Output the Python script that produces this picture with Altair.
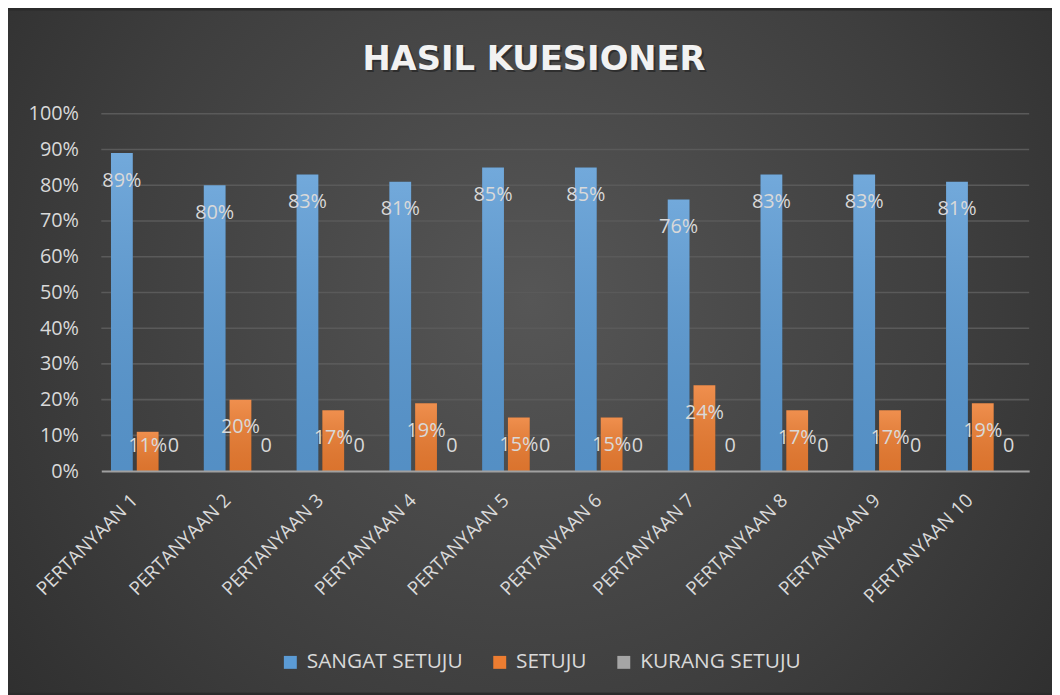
import altair as alt
import pandas as pd

categories = ["PERTANYAAN 1", "PERTANYAAN 2", "PERTANYAAN 3", "PERTANYAAN 4", "PERTANYAAN 5",
              "PERTANYAAN 6", "PERTANYAAN 7", "PERTANYAAN 8", "PERTANYAAN 9", "PERTANYAAN 10"]
series = ["SANGAT SETUJU", "SETUJU", "KURANG SETUJU"]
sangat_setuju = [0.89, 0.80, 0.83, 0.81, 0.85, 0.85, 0.76, 0.83, 0.83, 0.81]
setuju = [0.11, 0.20, 0.17, 0.19, 0.15, 0.15, 0.24, 0.17, 0.17, 0.19]
kurang_setuju = [0, 0, 0, 0, 0, 0, 0, 0, 0, 0]
y_ticks = [0.0, 0.1, 0.2, 0.3, 0.4, 0.5, 0.6, 0.7, 0.8, 0.9, 1.0]
colors = ["#5b9bd5", "#ed7d31", "#a5a5a5"]
title_text = "HASIL KUESIONER"

rows = []
for name, vals in zip(series, [sangat_setuju, setuju, kurang_setuju]):
    for c, v in zip(categories, vals):
        rows.append({"category": c, "series": name, "value": v,
                     "label": f"{round(v * 100)}%" if v > 0 else "0"})
df = pd.DataFrame(rows)

TXT = "#d9d9d9"
FONT = "Open Sans"

x_enc = alt.X("category:N", sort=categories,
              scale=alt.Scale(paddingInner=0.166, paddingOuter=0.083),
              axis=alt.Axis(title=None, labelAngle=-45, labelAlign="right", labelBaseline="middle",
                            labelFontSize=19, labelColor=TXT, labelPadding=26, labelOffset=-13,
                            ticks=False, domainColor="#a0a0a0", domainWidth=2, grid=False,
                            zindex=1))
xo_enc = alt.XOffset("series:N", sort=series,
                     scale=alt.Scale(domain=series, paddingInner=0.154, paddingOuter=0.077))
y_scale = alt.Scale(domain=[0, 1], nice=False)
y_axis = alt.Axis(title=None, format=".0%", values=y_ticks,
                  labelFontSize=20, labelColor=TXT, labelPadding=23, ticks=False,
                  domain=False, grid=False, zindex=1)
y_enc = alt.Y("value:Q", scale=y_scale, axis=y_axis)

bg = alt.Chart(pd.DataFrame({"a": [0]})).mark_rect(
    fill=alt.RadialGradient(gradient="radial",
                            stops=[alt.GradientStop(color="#565656", offset=0),
                                   alt.GradientStop(color="#3e3e3e", offset=0.55),
                                   alt.GradientStop(color="#272727", offset=1)],
                            x1=0.5, y1=0.45, r1=0, x2=0.5, y2=0.45, r2=0.75)
).encode(x=alt.value(-94), x2=alt.value(958), y=alt.value(-104), y2=alt.value(583))

grid = alt.Chart(pd.DataFrame({"value": y_ticks[1:]})).mark_rule(
    color="#5a5a5a", strokeWidth=1.6
).encode(y=y_enc, x=alt.value(0), x2=alt.value(935))

title_shadow = alt.Chart(pd.DataFrame({"t": [title_text]})).mark_text(
    x=438, y=-42, fontSize=34, fontWeight="bold", font="DejaVu Sans", color="black",
    opacity=0.35, align="center", baseline="alphabetic"
).encode(text="t:N")

title = alt.Chart(pd.DataFrame({"t": [title_text]})).mark_text(
    x=436, y=-44, fontSize=34, fontWeight="bold", font="DejaVu Sans", color="#f2f2f2",
    align="center", baseline="alphabetic"
).encode(text="t:N")

base = alt.Chart(df)

shadow = base.mark_bar(color="black", opacity=0.28, xOffset=3).encode(
    x=x_enc, xOffset=xo_enc, y=y_enc)

bars = base.mark_bar().encode(
    x=x_enc, xOffset=xo_enc, y=y_enc,
    color=alt.Color("series:N", sort=series,
                    scale=alt.Scale(domain=series, range=colors),
                    legend=alt.Legend(title=None, orient="none", direction="horizontal",
                                      legendX=180, legendY=542, symbolType="square",
                                      symbolSize=170, symbolStrokeWidth=0, labelFontSize=21,
                                      labelColor=TXT, labelFont=FONT, columnPadding=26,
                                      labelOffset=6, labelLimit=400)))

gloss = base.mark_bar(
    fill=alt.LinearGradient(gradient="linear",
                            stops=[alt.GradientStop(color="rgba(255,255,255,0.14)", offset=0),
                                   alt.GradientStop(color="rgba(0,0,0,0.08)", offset=1)],
                            x1=0, y1=0, x2=0, y2=1)
).encode(x=x_enc, xOffset=xo_enc, y=y_enc)

labels = base.mark_text(fontSize=20, color=TXT, align="center", baseline="middle").encode(
    x=x_enc, xOffset=xo_enc,
    y=alt.Y("label_y:Q", scale=y_scale, axis=y_axis), text="label:N"
).transform_calculate(label_y="max(datum.value - 28/360, 25/360)")

chart = alt.layer(bg, grid, shadow, bars, gloss, labels, title_shadow, title).properties(
    width=935, height=360,
    padding={"left": 94, "top": 104, "right": 23, "bottom": 223},
    autosize=alt.AutoSizeParams(type="none"),
).configure(background="#2b2b2b", font=FONT).configure_view(stroke=None)

chart.save("out.html", embed_options={"renderer": "svg", "actions": False})
